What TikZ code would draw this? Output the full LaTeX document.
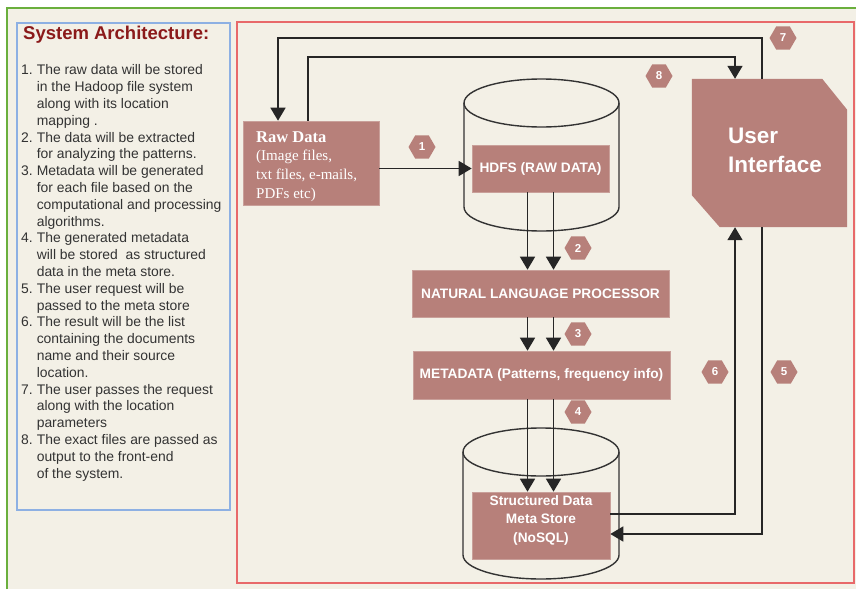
\documentclass[tikz,border=0pt]{standalone}
\usepackage{fontspec}
\setmainfont{Liberation Sans}
\newfontfamily\serifraw{Liberation Serif}
\usetikzlibrary{arrows.meta,shapes.geometric,calc}
\definecolor{bgcream}{HTML}{F3F0E6}
\definecolor{boxfill}{HTML}{B7807A}
\definecolor{boxedge}{HTML}{C9A09A}
\definecolor{gborder}{HTML}{6AAF3D}
\definecolor{bborder}{HTML}{8DB0E3}
\definecolor{rborder}{HTML}{E8696A}
\definecolor{titlered}{HTML}{8B1A1A}
\definecolor{linecol}{HTML}{262626}
\definecolor{cylcol}{HTML}{333333}
\definecolor{listtext}{HTML}{333333}
\tikzset{
  pbox/.style={fill=boxfill, draw=boxedge, line width=0.6pt, text=white, inner sep=0pt, align=center,
    font=\fontsize{13.7}{18.5}\selectfont\bfseries},
  hexa/.style={regular polygon, regular polygon sides=6, minimum size=27pt, inner sep=0pt,
    fill=boxfill, text=white, font=\fontsize{11.5}{12}\selectfont\bfseries},
  arr/.style={draw=linecol, line width=1.6pt, -{Triangle[width=15pt,length=13pt]}},
  cyl/.style={draw=cylcol, line width=1.4pt},
}
\begin{document}
\begin{tikzpicture}[x=1pt,y=-1pt]
\useasboundingbox (0,0) rectangle (856,589);
\fill[white] (0,0) rectangle (856,589);
\fill[bgcream] (7,8) rectangle (856,589);
\draw[gborder, line width=1.6pt] (7,589) -- (7,8) -- (856,8);
\draw[bborder, line width=1.6pt] (17,23) rectangle (230,510);
\draw[rborder, line width=2pt] (237,22) rectangle (854,583);

% left panel
\node[anchor=west, text=titlered, font=\fontsize{18.5}{20}\selectfont\bfseries, inner sep=0pt] (title) at (23,35) {System Architecture:};
\node[anchor=north west, inner sep=0pt, text=listtext, font=\fontsize{13.9}{16.8}\selectfont, align=left] (list) at (21,63) {%
\begin{tabular}{@{}r@{\hspace{4pt}}l@{}}
1. & The raw data will be stored\\
 & in the Hadoop file system\\
 & along with its location\\
 & mapping .\\
2. & The data will be extracted\\
 & for analyzing the patterns.\\
3. & Metadata will be generated\\
 & for each file based on the\\
 & computational and processing\\
 & algorithms.\\
4. & The generated metadata\\
 & will be stored\ \ as structured\\
 & data in the meta store.\\
5. & The user request will be\\
 & passed to the meta store\\
6. & The result will be the list\\
 & containing the documents\\
 & name and their source\\
 & location.\\
7. & The user passes the request\\
 & along with the location\\
 & parameters\\
8. & The exact files are passed as\\
 & output to the front-end\\
 & of the system.
\end{tabular}};

% cylinders
\draw[cyl] (541.5,103) ellipse [x radius=77.5pt, y radius=24pt];
\draw[cyl] (464,103) -- (464,207) arc [start angle=180, end angle=360, x radius=77.5pt, y radius=24pt] -- (619,103);
\draw[cyl] (541,452) ellipse [x radius=78pt, y radius=24pt];
\draw[cyl] (463,452) -- (463,555) arc [start angle=180, end angle=360, x radius=78pt, y radius=24pt] -- (619,452);

% boxes
\node[pbox, minimum width=136pt, minimum height=84pt] (raw) at (311,163) {};
\node[anchor=north west, inner sep=0pt, text=white, align=left, font=\serifraw\fontsize{15}{18.8}\selectfont] (rawtxt) at (256,131) {{\fontsize{16.5}{18.8}\selectfont\bfseries Raw Data}\\(Image files,\\txt files, e-mails,\\PDFs etc)};
\node[pbox, minimum width=137pt, minimum height=47pt] (hdfs) at (540.5,168.5) {HDFS (RAW DATA)};
\node[pbox, minimum width=257pt, minimum height=47pt] (nlp) at (540.5,293.5) {NATURAL LANGUAGE PROCESSOR};
\node[pbox, minimum width=257pt, minimum height=48pt] (meta) at (541.5,375) {METADATA (Patterns, frequency info)};
\node[pbox, minimum width=138pt, minimum height=67pt] (store) at (541,525.5) {};
\node[text=white, align=center, inner sep=0pt, font=\fontsize{13.7}{18.5}\selectfont\bfseries] (storetxt) at (541,520) {Structured Data\\Meta Store\\(NoSQL)};

% user interface
\node[minimum width=155pt, minimum height=148pt, inner sep=0pt] (ui) at (769.5,153) {};
\fill[boxfill] (ui.north west) -- ([xshift=-25pt]ui.north east) -- ([yshift=-31pt]ui.north east) -- (ui.south east) -- ([xshift=28pt]ui.south west) -- ([yshift=32pt]ui.south west) -- cycle;
\node[anchor=west, text=white, align=left, inner sep=0pt, font=\fontsize{22.5}{29}\selectfont\bfseries] (uitxt) at (728,150) {User\\Interface};

% connectors
\draw[arr] (hdfs.west -| raw.east) -- (hdfs.west);
\draw[arr] ([xshift=-13pt]hdfs.south) -- ([xshift=-13pt]hdfs.south |- nlp.north);
\draw[arr] ([xshift=13pt]hdfs.south) -- ([xshift=13pt]hdfs.south |- nlp.north);
\draw[arr] ([xshift=-13pt]nlp.south) -- ([xshift=-13pt]nlp.south |- meta.north);
\draw[arr] ([xshift=13pt]nlp.south) -- ([xshift=13pt]nlp.south |- meta.north);
\draw[arr] ([xshift=-14pt]meta.south) -- ([xshift=-14pt]meta.south |- store.north);
\draw[arr] ([xshift=12pt]meta.south) -- ([xshift=12pt]meta.south |- store.north);
\coordinate (c7) at (500,38);
\coordinate (c8) at (500,57);
\coordinate (c6) at (735,400);
\coordinate (c5) at (762,400);
\draw[arr] ([yshift=11.5pt]store.east) -| (c6 |- ui.south);
\draw[arr] (c5 |- ui.south) |- ([yshift=-8.5pt]store.east);
\draw[arr] ([xshift=-7.5pt]ui.north) |- (c7) -| ([xshift=-33pt]raw.north);
\draw[arr] ([xshift=-3pt]raw.north) |- (c8) -| ([xshift=-34.5pt]ui.north);

% step markers
\node[hexa] (h1) at (422,147) {1};
\node[hexa] (h2) at (578,248) {2};
\node[hexa] (h3) at (578,334) {3};
\node[hexa] (h4) at (578,412) {4};
\node[hexa] (h5) at (784,372) {5};
\node[hexa] (h6) at (715,372) {6};
\node[hexa] (h7) at (783,38) {7};
\node[hexa] (h8) at (659,76) {8};
\end{tikzpicture}
\end{document}
